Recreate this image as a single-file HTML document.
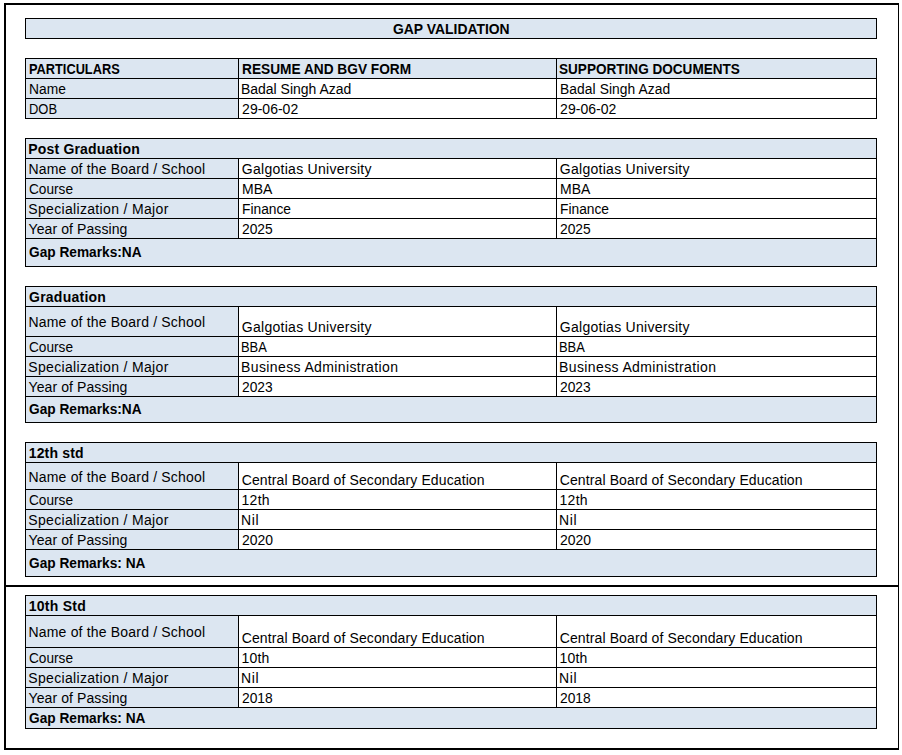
<!DOCTYPE html>
<html><head><meta charset="utf-8"><title>Gap Validation</title>
<style>
html,body{margin:0;padding:0;background:#fff;}
body{width:902px;height:755px;position:relative;overflow:hidden;font-family:"Liberation Sans",sans-serif;}
.r{position:absolute;}
.t{position:absolute;transform-origin:0 0;font-size:14px;line-height:16px;color:#000;white-space:nowrap;font-weight:400;}
.b{font-weight:700;}
</style></head><body>
<div class="r" style="left:4px;top:3px;width:2px;height:747px;background:#000"></div>
<div class="r" style="left:4px;top:3px;width:895px;height:2px;background:#000"></div>
<div class="r" style="left:898px;top:3px;width:1px;height:747px;background:#000"></div>
<div class="r" style="left:4px;top:748px;width:895px;height:2px;background:#000"></div>
<div class="r" style="left:4px;top:585px;width:895px;height:2px;background:#000"></div>
<div class="r" style="left:25px;top:18px;width:852px;height:21px;background:#DCE6F1"></div>
<div class="r" style="left:25px;top:18px;width:852px;height:1px;background:#000"></div>
<div class="r" style="left:25px;top:38px;width:852px;height:1px;background:#000"></div>
<div class="r" style="left:25px;top:18px;width:1px;height:21px;background:#000"></div>
<div class="r" style="left:876px;top:18px;width:1px;height:21px;background:#000"></div>
<div class="r" style="left:25px;top:58px;width:852px;height:61px;background:#DCE6F1"></div>
<div class="r" style="left:238px;top:78px;width:638px;height:40px;background:#fff"></div>
<div class="r" style="left:25px;top:58px;width:852px;height:1px;background:#000"></div>
<div class="r" style="left:25px;top:78px;width:852px;height:1px;background:#000"></div>
<div class="r" style="left:25px;top:98px;width:852px;height:1px;background:#000"></div>
<div class="r" style="left:25px;top:118px;width:852px;height:1px;background:#000"></div>
<div class="r" style="left:25px;top:58px;width:1px;height:61px;background:#000"></div>
<div class="r" style="left:876px;top:58px;width:1px;height:61px;background:#000"></div>
<div class="r" style="left:238px;top:58px;width:1px;height:61px;background:#000"></div>
<div class="r" style="left:556px;top:58px;width:1px;height:61px;background:#000"></div>
<div class="r" style="left:25px;top:138px;width:852px;height:129px;background:#DCE6F1"></div>
<div class="r" style="left:238px;top:158px;width:638px;height:80px;background:#fff"></div>
<div class="r" style="left:25px;top:138px;width:852px;height:1px;background:#000"></div>
<div class="r" style="left:25px;top:158px;width:852px;height:1px;background:#000"></div>
<div class="r" style="left:25px;top:178px;width:852px;height:1px;background:#000"></div>
<div class="r" style="left:25px;top:198px;width:852px;height:1px;background:#000"></div>
<div class="r" style="left:25px;top:218px;width:852px;height:1px;background:#000"></div>
<div class="r" style="left:25px;top:238px;width:852px;height:1px;background:#000"></div>
<div class="r" style="left:25px;top:266px;width:852px;height:1px;background:#000"></div>
<div class="r" style="left:25px;top:138px;width:1px;height:129px;background:#000"></div>
<div class="r" style="left:876px;top:138px;width:1px;height:129px;background:#000"></div>
<div class="r" style="left:238px;top:158px;width:1px;height:81px;background:#000"></div>
<div class="r" style="left:556px;top:158px;width:1px;height:81px;background:#000"></div>
<div class="r" style="left:25px;top:286px;width:852px;height:137px;background:#DCE6F1"></div>
<div class="r" style="left:238px;top:306px;width:638px;height:90px;background:#fff"></div>
<div class="r" style="left:25px;top:286px;width:852px;height:1px;background:#000"></div>
<div class="r" style="left:25px;top:306px;width:852px;height:1px;background:#000"></div>
<div class="r" style="left:25px;top:336px;width:852px;height:1px;background:#000"></div>
<div class="r" style="left:25px;top:356px;width:852px;height:1px;background:#000"></div>
<div class="r" style="left:25px;top:376px;width:852px;height:1px;background:#000"></div>
<div class="r" style="left:25px;top:396px;width:852px;height:1px;background:#000"></div>
<div class="r" style="left:25px;top:422px;width:852px;height:1px;background:#000"></div>
<div class="r" style="left:25px;top:286px;width:1px;height:137px;background:#000"></div>
<div class="r" style="left:876px;top:286px;width:1px;height:137px;background:#000"></div>
<div class="r" style="left:238px;top:306px;width:1px;height:91px;background:#000"></div>
<div class="r" style="left:556px;top:306px;width:1px;height:91px;background:#000"></div>
<div class="r" style="left:25px;top:442px;width:852px;height:135px;background:#DCE6F1"></div>
<div class="r" style="left:238px;top:462px;width:638px;height:87px;background:#fff"></div>
<div class="r" style="left:25px;top:442px;width:852px;height:1px;background:#000"></div>
<div class="r" style="left:25px;top:462px;width:852px;height:1px;background:#000"></div>
<div class="r" style="left:25px;top:489px;width:852px;height:1px;background:#000"></div>
<div class="r" style="left:25px;top:509px;width:852px;height:1px;background:#000"></div>
<div class="r" style="left:25px;top:529px;width:852px;height:1px;background:#000"></div>
<div class="r" style="left:25px;top:549px;width:852px;height:1px;background:#000"></div>
<div class="r" style="left:25px;top:576px;width:852px;height:1px;background:#000"></div>
<div class="r" style="left:25px;top:442px;width:1px;height:135px;background:#000"></div>
<div class="r" style="left:876px;top:442px;width:1px;height:135px;background:#000"></div>
<div class="r" style="left:238px;top:462px;width:1px;height:88px;background:#000"></div>
<div class="r" style="left:556px;top:462px;width:1px;height:88px;background:#000"></div>
<div class="r" style="left:25px;top:595px;width:852px;height:134px;background:#DCE6F1"></div>
<div class="r" style="left:238px;top:615px;width:638px;height:92px;background:#fff"></div>
<div class="r" style="left:25px;top:595px;width:852px;height:1px;background:#000"></div>
<div class="r" style="left:25px;top:615px;width:852px;height:1px;background:#000"></div>
<div class="r" style="left:25px;top:647px;width:852px;height:1px;background:#000"></div>
<div class="r" style="left:25px;top:667px;width:852px;height:1px;background:#000"></div>
<div class="r" style="left:25px;top:687px;width:852px;height:1px;background:#000"></div>
<div class="r" style="left:25px;top:707px;width:852px;height:1px;background:#000"></div>
<div class="r" style="left:25px;top:728px;width:852px;height:1px;background:#000"></div>
<div class="r" style="left:25px;top:595px;width:1px;height:134px;background:#000"></div>
<div class="r" style="left:876px;top:595px;width:1px;height:134px;background:#000"></div>
<div class="r" style="left:238px;top:615px;width:1px;height:93px;background:#000"></div>
<div class="r" style="left:556px;top:615px;width:1px;height:93px;background:#000"></div>
<span class="t b" id="t0" style="left:393.00px;top:21px;transform:scaleX(0.9932)">GAP VALIDATION</span>
<span class="t b" id="t1" style="left:28.78px;top:61px;transform:scaleX(0.9131)">PARTICULARS</span>
<span class="t b" id="t2" style="left:241.78px;top:61px;transform:scaleX(0.9782)">RESUME AND BGV FORM</span>
<span class="t b" id="t3" style="left:558.95px;top:61px;transform:scaleX(0.9691)">SUPPORTING DOCUMENTS</span>
<span class="t" id="t4" style="left:28.75px;top:81px;transform:scaleX(0.9857)">Name</span>
<span class="t" id="t5" style="left:241.27px;top:81px;transform:scaleX(0.9971)">Badal Singh Azad</span>
<span class="t" id="t6" style="left:559.84px;top:81px;letter-spacing:0.080px;transform:scaleX(0.9866)">Badal Singh Azad</span>
<span class="t" id="t7" style="left:29.31px;top:101px;transform:scaleX(0.9246)">DOB</span>
<span class="t" id="t8" style="left:242.11px;top:101px;letter-spacing:0.003px">29-06-02</span>
<span class="t" id="t9" style="left:560.11px;top:101px;letter-spacing:0.012px">29-06-02</span>
<span class="t b" id="t10" style="left:28.24px;top:141px;letter-spacing:0.185px">Post Graduation</span>
<span class="t" id="t11" style="left:28.51px;top:161px;letter-spacing:0.183px">Name of the Board / School</span>
<span class="t" id="t12" style="left:241.83px;top:161px;letter-spacing:0.273px">Galgotias University</span>
<span class="t" id="t13" style="left:559.83px;top:161px;letter-spacing:0.273px">Galgotias University</span>
<span class="t" id="t14" style="left:28.63px;top:181px;transform:scaleX(0.9745)">Course</span>
<span class="t" id="t15" style="left:241.67px;top:181px;transform:scaleX(0.9981)">MBA</span>
<span class="t" id="t16" style="left:559.67px;top:181px;transform:scaleX(0.9981)">MBA</span>
<span class="t" id="t17" style="left:28.22px;top:201px;letter-spacing:0.334px">Specialization / Major</span>
<span class="t" id="t18" style="left:241.79px;top:201px;transform:scaleX(0.9845)">Finance</span>
<span class="t" id="t19" style="left:559.79px;top:201px;transform:scaleX(0.9845)">Finance</span>
<span class="t" id="t20" style="left:28.60px;top:221px;letter-spacing:0.085px">Year of Passing</span>
<span class="t" id="t21" style="left:241.54px;top:221px;transform:scaleX(0.9872)">2025</span>
<span class="t" id="t22" style="left:559.54px;top:221px;transform:scaleX(0.9872)">2025</span>
<span class="t b" id="t23" style="left:28.82px;top:244px;transform:scaleX(0.9776)">Gap Remarks:NA</span>
<span class="t b" id="t24" style="left:29.02px;top:289px;letter-spacing:0.242px">Graduation</span>
<span class="t" id="t25" style="left:28.51px;top:314px;letter-spacing:0.183px">Name of the Board / School</span>
<span class="t" id="t26" style="left:241.83px;top:319px;letter-spacing:0.273px">Galgotias University</span>
<span class="t" id="t27" style="left:559.83px;top:319px;letter-spacing:0.273px">Galgotias University</span>
<span class="t" id="t28" style="left:28.63px;top:339px;transform:scaleX(0.9745)">Course</span>
<span class="t" id="t29" style="left:241.00px;top:339px;transform:scaleX(0.9229)">BBA</span>
<span class="t" id="t30" style="left:559.00px;top:339px;transform:scaleX(0.9229)">BBA</span>
<span class="t" id="t31" style="left:28.22px;top:359px;letter-spacing:0.334px">Specialization / Major</span>
<span class="t" id="t32" style="left:241.12px;top:359px;letter-spacing:0.373px">Business Administration</span>
<span class="t" id="t33" style="left:559.12px;top:359px;letter-spacing:0.373px">Business Administration</span>
<span class="t" id="t34" style="left:28.60px;top:379px;letter-spacing:0.085px">Year of Passing</span>
<span class="t" id="t35" style="left:241.54px;top:379px;transform:scaleX(0.9851)">2023</span>
<span class="t" id="t36" style="left:559.54px;top:379px;transform:scaleX(0.9851)">2023</span>
<span class="t b" id="t37" style="left:28.82px;top:401px;transform:scaleX(0.9776)">Gap Remarks:NA</span>
<span class="t b" id="t38" style="left:28.68px;top:445px;letter-spacing:0.169px">12th std</span>
<span class="t" id="t39" style="left:28.51px;top:469px;letter-spacing:0.183px">Name of the Board / School</span>
<span class="t" id="t40" style="left:241.75px;top:472px;letter-spacing:0.111px">Central Board of Secondary Education</span>
<span class="t" id="t41" style="left:559.75px;top:472px;letter-spacing:0.111px">Central Board of Secondary Education</span>
<span class="t" id="t42" style="left:28.63px;top:492px;transform:scaleX(0.9745)">Course</span>
<span class="t" id="t43" style="left:241.60px;top:492px;letter-spacing:0.239px">12th</span>
<span class="t" id="t44" style="left:559.60px;top:492px;letter-spacing:0.239px">12th</span>
<span class="t" id="t45" style="left:28.22px;top:512px;letter-spacing:0.334px">Specialization / Major</span>
<span class="t" id="t46" style="left:241.11px;top:512px;letter-spacing:0.551px">Nil</span>
<span class="t" id="t47" style="left:559.11px;top:512px;letter-spacing:0.551px">Nil</span>
<span class="t" id="t48" style="left:28.60px;top:532px;letter-spacing:0.085px">Year of Passing</span>
<span class="t" id="t49" style="left:241.54px;top:532px;transform:scaleX(0.9966)">2020</span>
<span class="t" id="t50" style="left:559.54px;top:532px;transform:scaleX(0.9966)">2020</span>
<span class="t b" id="t51" style="left:28.82px;top:555px;transform:scaleX(0.9778)">Gap Remarks: NA</span>
<span class="t b" id="t52" style="left:28.68px;top:598px;letter-spacing:0.271px">10th Std</span>
<span class="t" id="t53" style="left:28.51px;top:624px;letter-spacing:0.183px">Name of the Board / School</span>
<span class="t" id="t54" style="left:241.75px;top:630px;letter-spacing:0.111px">Central Board of Secondary Education</span>
<span class="t" id="t55" style="left:559.75px;top:630px;letter-spacing:0.111px">Central Board of Secondary Education</span>
<span class="t" id="t56" style="left:28.63px;top:650px;transform:scaleX(0.9745)">Course</span>
<span class="t" id="t57" style="left:241.60px;top:650px;letter-spacing:0.148px">10th</span>
<span class="t" id="t58" style="left:559.60px;top:650px;letter-spacing:0.148px">10th</span>
<span class="t" id="t59" style="left:28.22px;top:670px;letter-spacing:0.334px">Specialization / Major</span>
<span class="t" id="t60" style="left:241.11px;top:670px;letter-spacing:0.551px">Nil</span>
<span class="t" id="t61" style="left:559.11px;top:670px;letter-spacing:0.551px">Nil</span>
<span class="t" id="t62" style="left:28.60px;top:690px;letter-spacing:0.085px">Year of Passing</span>
<span class="t" id="t63" style="left:241.54px;top:690px;transform:scaleX(0.9859)">2018</span>
<span class="t" id="t64" style="left:559.54px;top:690px;transform:scaleX(0.9859)">2018</span>
<span class="t b" id="t65" style="left:28.82px;top:710px;transform:scaleX(0.9778)">Gap Remarks: NA</span>
</body></html>
